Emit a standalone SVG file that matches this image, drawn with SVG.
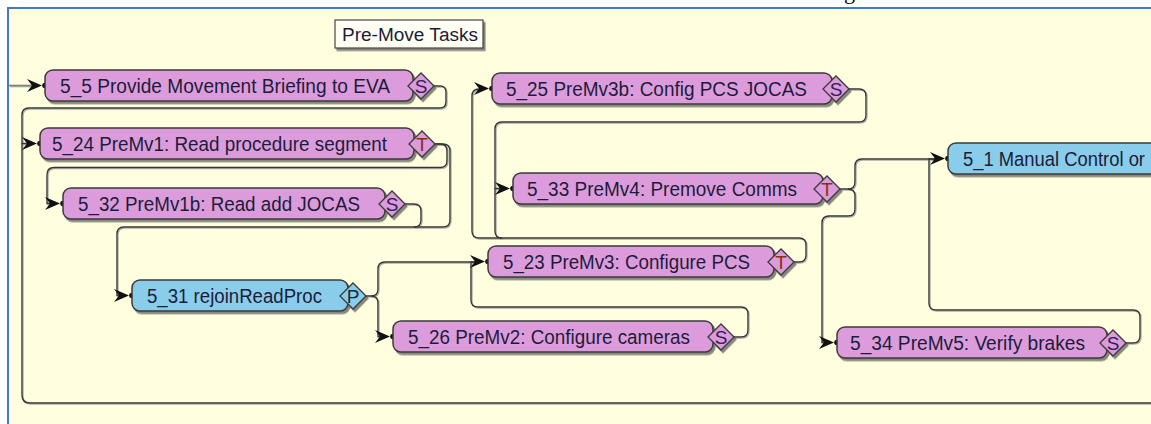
<svg xmlns="http://www.w3.org/2000/svg" width="1151" height="424" viewBox="0 0 1151 424">
<defs>
<style>
.nb{stroke:#3a3a3a;stroke-width:1.5}
.task{fill:#DC9CDC}
.sub{fill:#8ACDEA}
.lbl{font-family:"Liberation Sans",Arial,sans-serif;font-size:20.5px;fill:#1c1c3a}
.dia{stroke:#3a3a3a;stroke-width:1.3}
.dl{font-family:"Liberation Sans",Arial,sans-serif;font-size:19px;text-anchor:middle}
.ds{fill:#30205a}
.dt{fill:#8a3010}
.dp{fill:#1c2a3a}
.wire{fill:none;stroke:#353535;stroke-width:1.4}
.arr{fill:#111}
</style>
<filter id="sh" x="-5%" y="-30%" width="115%" height="170%"><feDropShadow dx="2" dy="2.5" stdDeviation="0.6" flood-color="#555" flood-opacity="0.7"/></filter>
<filter id="wsh" x="-2%" y="-2%" width="104%" height="104%"><feDropShadow dx="1" dy="1" stdDeviation="0.3" flood-color="#999" flood-opacity="0.8"/></filter>
<g id="arrow"><path d="M-15,-6.5 L0,0 L-15,6.5 L-10,0 Z"/><circle cx="3" cy="0" r="2.8"/></g>
</defs>

<rect width="1151" height="424" fill="#ffffff"/>
<rect x="8" y="8" width="1143" height="416" fill="#FFFFE0"/>
<path d="M8,424 V8 H1151" stroke="#4A78C8" stroke-width="2" fill="none"/>
<text x="844" y="-1" font-family="'Liberation Serif',serif" font-size="22" fill="#000">g</text>

<g id="title-label">
<rect x="335" y="20" width="148" height="28" fill="#FFFFF4" stroke="#444" stroke-width="1.2" filter="url(#sh)"/>
<text class="lbl" x="342" y="41" style="font-size:18px" fill="#111" textLength="136" lengthAdjust="spacingAndGlyphs">Pre-Move Tasks</text>
</g>

<g id="connectors">
<g filter="url(#wsh)">
<path d="M9,85.5 H32" fill="none" stroke="#808080" stroke-width="1.6"/>
<path class="wire" d="M433,86 H440 Q446,86 446,92 V102 Q446,108 440,108 H29 Q22,108 22,115 V143.5 H30"/>
<path class="wire" d="M1151,403 H30 Q22,403 22,395 V143.5"/>
<path class="wire" d="M434,144 H440 Q447,144 447,151 V161 Q447,167.5 440,167.5 H54 Q47,167.5 47,175 V203.5 H50"/>
<path class="wire" d="M434,144 H443 Q450,144 450,151 V220 Q450,227 443,227 H124 Q117,227 117,234 V295.5 H120"/>
<path class="wire" d="M404,204 H414 Q421,204 421,211 V220 Q421,227 414,227"/>
<path class="wire" d="M365,296 H371 Q378,296 378,289 V269 Q378,262 385,262 H476"/>
<path class="wire" d="M371,296 Q378,296 378,303 V336.5 H381"/>
<path class="wire" d="M733,337 H741 Q748,337 748,330 V314 Q748,307 741,307 H478 Q471,307 471,300 V262 H476"/>
<path class="wire" d="M793,262 H799 Q806,262 806,255 V245 Q806,238 799,238 H502 Q495,238 495,231 V188.5 H500"/>
<path class="wire" d="M502,238 H479 Q472,238 472,231 V96 Q472,89 479,89 H480"/>
<path class="wire" d="M848,89 H859 Q866,89 866,96 V115 Q866,122 859,122 H502 Q495,122 495,129 V188.5"/>
<path class="wire" d="M839,189 H848 Q855,189 855,182 V166 Q855,159 862,159 H936"/>
<path class="wire" d="M848,189 Q855,189 855,196 V209 Q855,216 848,216 H829 Q822,216 822,223 V342.5 H825"/>
<path class="wire" d="M1125,343 H1133 Q1140,343 1140,336 V317 Q1140,310 1133,310 H936 Q929,310 929,303 V159 H936"/>
</g>
<g class="arr">
<use href="#arrow" transform="translate(42,85.5)"/>
<use href="#arrow" transform="translate(37,143.5)"/>
<use href="#arrow" transform="translate(60,203.5)"/>
<use href="#arrow" transform="translate(129,295.5)"/>
<use href="#arrow" transform="translate(489,88.5)"/>
<use href="#arrow" transform="translate(510,188.5)"/>
<use href="#arrow" transform="translate(485,261.5)"/>
<use href="#arrow" transform="translate(390,336.5)"/>
<use href="#arrow" transform="translate(945,158.5)"/>
<use href="#arrow" transform="translate(834,342.5)"/>
</g>
</g>

<g id="n5_5">
<g filter="url(#sh)"><rect class="task nb" x="45" y="70" width="368" height="31" rx="8"/><polygon class="task dia" points="408,86 421,73 434,86 421,99"/></g>
<text class="lbl" x="60" y="93" textLength="330" lengthAdjust="spacingAndGlyphs">5_5 Provide Movement Briefing to EVA</text>
<text class="dl ds" x="421" y="93">S</text>
</g>

<g id="n5_24">
<g filter="url(#sh)"><rect class="task nb" x="40" y="128" width="374" height="31" rx="8"/><polygon class="task dia" points="409,144 422,131 435,144 422,157"/></g>
<text class="lbl" x="52" y="151" textLength="335" lengthAdjust="spacingAndGlyphs">5_24 PreMv1: Read procedure segment</text>
<text class="dl dt" x="422" y="151">T</text>
</g>

<g id="n5_32">
<g filter="url(#sh)"><rect class="task nb" x="63" y="188" width="322" height="31" rx="8"/><polygon class="task dia" points="379,204 392,191 405,204 392,217"/></g>
<text class="lbl" x="78" y="211" textLength="282" lengthAdjust="spacingAndGlyphs">5_32 PreMv1b: Read add JOCAS</text>
<text class="dl ds" x="392" y="211">S</text>
</g>

<g id="n5_31">
<g filter="url(#sh)"><rect class="sub nb" x="132" y="280" width="216" height="31" rx="8"/><polygon class="sub dia" points="340,296 353,283 366,296 353,309"/></g>
<text class="lbl" x="147" y="303" textLength="175" lengthAdjust="spacingAndGlyphs">5_31 rejoinReadProc</text>
<text class="dl dp" x="353" y="303">P</text>
</g>

<g id="n5_25">
<g filter="url(#sh)"><rect class="task nb" x="492" y="73" width="340" height="31" rx="8"/><polygon class="task dia" points="823,89 836,76 849,89 836,102"/></g>
<text class="lbl" x="506" y="96" textLength="301" lengthAdjust="spacingAndGlyphs">5_25 PreMv3b: Config PCS JOCAS</text>
<text class="dl ds" x="836" y="96">S</text>
</g>

<g id="n5_33">
<g filter="url(#sh)"><rect class="task nb" x="513" y="173" width="310" height="31" rx="8"/><polygon class="task dia" points="814,189 827,176 840,189 827,202"/></g>
<text class="lbl" x="527" y="196" textLength="270" lengthAdjust="spacingAndGlyphs">5_33 PreMv4: Premove Comms</text>
<text class="dl dt" x="827" y="196">T</text>
</g>

<g id="n5_23">
<g filter="url(#sh)"><rect class="task nb" x="488" y="246" width="286" height="31" rx="8"/><polygon class="task dia" points="768,262 781,249 794,262 781,275"/></g>
<text class="lbl" x="503" y="269" textLength="247" lengthAdjust="spacingAndGlyphs">5_23 PreMv3: Configure PCS</text>
<text class="dl dt" x="781" y="269">T</text>
</g>

<g id="n5_26">
<g filter="url(#sh)"><rect class="task nb" x="393" y="321" width="320" height="31" rx="8"/><polygon class="task dia" points="708,337 721,324 734,337 721,350"/></g>
<text class="lbl" x="408" y="344" textLength="282" lengthAdjust="spacingAndGlyphs">5_26 PreMv2: Configure cameras</text>
<text class="dl ds" x="721" y="344">S</text>
</g>

<g id="n5_1">
<g filter="url(#sh)"><rect class="sub nb" x="948" y="143" width="240" height="31" rx="8"/></g>
<text class="lbl" x="963" y="166" textLength="182" lengthAdjust="spacingAndGlyphs">5_1 Manual Control or</text>
</g>

<g id="n5_34">
<g filter="url(#sh)"><rect class="task nb" x="837" y="327" width="270" height="31" rx="8"/><polygon class="task dia" points="1100,343 1113,330 1126,343 1113,356"/></g>
<text class="lbl" x="850" y="350" textLength="235" lengthAdjust="spacingAndGlyphs">5_34 PreMv5: Verify brakes</text>
<text class="dl ds" x="1113" y="350">S</text>
</g>
</svg>
